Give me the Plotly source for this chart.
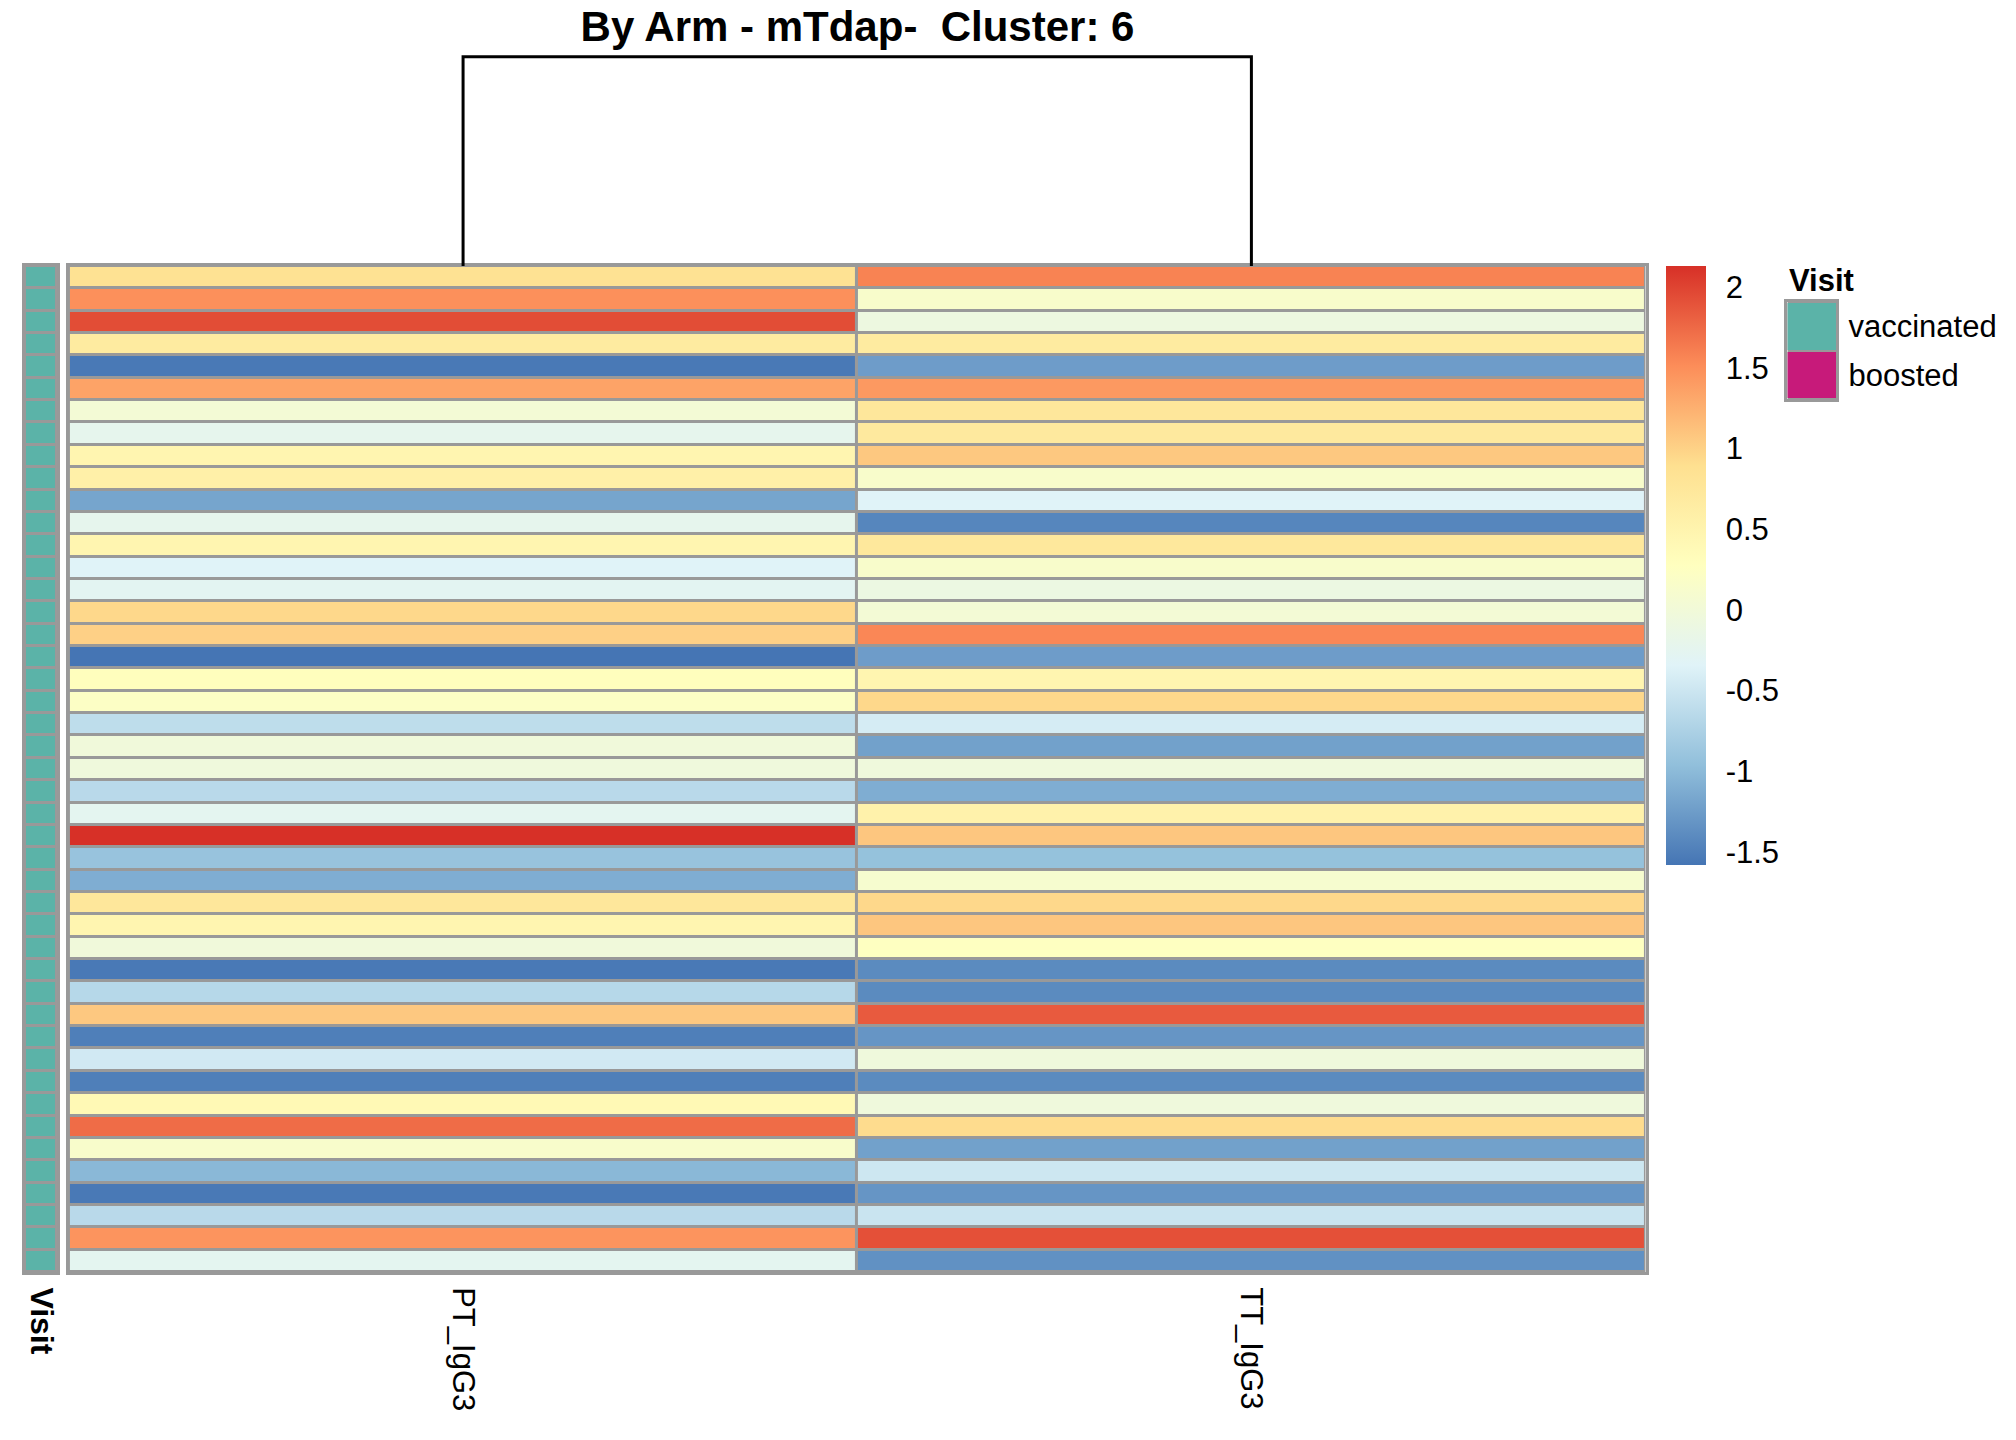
import numpy as np
import plotly.graph_objects as go

W, H = 2016, 1440

# scaled values per sample (rows) for the two antigens (columns)
columns = ["PT_IgG3", "TT_IgG3"]
pt_igg3 = [0.86, 1.49, 1.94, 0.68, -1.55, 1.35, 0.04, -0.22, 0.47, 0.58,
           -1.18, -0.22, 0.47, -0.34, -0.28, 0.95, 1.01, -1.58, 0.30, 0.21,
           -0.61, -0.02, -0.04, -0.65, -0.26, 2.13, -0.91, -1.11, 0.75, 0.47,
           -0.02, -1.55, -0.67, 1.07, -1.50, -0.46, -1.50, 0.40, 1.73, 0.14,
           -1.02, -1.55, -0.65, 1.46, -0.26]
tt_igg3 = [1.58, 0.14, -0.08, 0.68, -1.25, 1.42, 0.75, 0.71, 1.07, 0.14,
           -0.34, -1.44, 0.74, 0.14, -0.10, 0.04, 1.55, -1.25, 0.47, 0.95,
           -0.43, -1.21, -0.04, -1.11, 0.54, 1.09, -0.93, 0.10, 0.95, 1.09,
           0.25, -1.40, -1.40, 1.85, -1.31, -0.04, -1.40, -0.04, 0.92, -1.21,
           -0.49, -1.31, -0.52, 1.92, -1.35]
visit = ["vaccinated"] * 45
visit_levels = ["vaccinated", "boosted"]
visit_colors = ["#5BB3A8", "#C71A7A"]
cbar_ticks = [2, 1.5, 1, 0.5, 0, -0.5, -1, -1.5]
cbar_text = ["2", "1.5", "1", "0.5", "0", "-0.5", "-1", "-1.5"]

rdylbu_r = ["#4575B4", "#91BFDB", "#E0F3F8", "#FFFFBF", "#FEE090", "#FC8D59", "#D73027"]
GRID = "#999999"
FONT = "Liberation Sans, Arial, sans-serif"

rows = list(range(1, len(pt_igg3) + 1))
z = [[a, b] for a, b in zip(pt_igg3, tt_igg3)]
zmin, zmax = min(pt_igg3 + tt_igg3), max(pt_igg3 + tt_igg3)

# column dendrogram height (euclidean distance between the two columns)
h = float(np.sqrt(np.sum((np.array(pt_igg3) - np.array(tt_igg3)) ** 2)))

PAGE = 8  # body margin of the html page


def fx(px):
    return (px - PAGE) / W


def fy(py):
    return 1 - (py - PAGE) / H


hm_left, hm_right, hm_top, hm_bot = 68, 1647, 266, 1272
dendro_top = hm_top - (hm_top - 56.7) * 1.03
solid_grey = [[0, GRID], [1, GRID]]
visit_scale = [[0, visit_colors[0]], [0.5, visit_colors[0]],
               [0.5, visit_colors[1]], [1, visit_colors[1]]]

fig = go.Figure()

# grey underlay so the cell gaps look like pheatmap borders
fig.add_trace(go.Heatmap(z=[[0, 0] for _ in rows], x=columns, y=rows, colorscale=solid_grey,
                         showscale=False, hoverinfo="skip", xaxis="x", yaxis="y"))
fig.add_trace(go.Heatmap(
    z=z, x=columns, y=rows,
    colorscale=[[i / 6, c] for i, c in enumerate(rdylbu_r)],
    zmin=zmin, zmax=zmax, xgap=3, ygap=3,
    colorbar=dict(
        x=fx(1667), xanchor="left", xpad=0,
        y=fy(hm_top), yanchor="top", ypad=0,
        thickness=40, lenmode="pixels", len=599,
        outlinewidth=0,
        tickvals=cbar_ticks, ticktext=cbar_text,
        ticks="outside", ticklen=14, tickcolor="rgba(0,0,0,0)",
        tickfont=dict(size=31, color="black", family=FONT),
    ),
    xaxis="x", yaxis="y",
))

# Visit annotation column
fig.add_trace(go.Heatmap(z=[[0] for _ in rows], x=["<b>Visit</b>"], y=rows, colorscale=solid_grey,
                         showscale=False, hoverinfo="skip", xaxis="x2", yaxis="y2"))
fig.add_trace(go.Heatmap(
    z=[[visit_levels.index(v)] for v in visit], x=["<b>Visit</b>"], y=rows,
    colorscale=visit_scale, zmin=0, zmax=1, showscale=False, xgap=3, ygap=3,
    xaxis="x2", yaxis="y2",
))

# Visit legend
fig.add_trace(go.Heatmap(z=[[0] for _ in visit_levels], x=["k"], y=visit_levels, colorscale=solid_grey,
                         showscale=False, hoverinfo="skip", xaxis="x3", yaxis="y3"))
fig.add_trace(go.Heatmap(
    z=[[i] for i in range(len(visit_levels))], x=["k"], y=visit_levels,
    colorscale=visit_scale, zmin=0, zmax=1, showscale=False, ygap=2,
    xaxis="x3", yaxis="y3",
))

# column dendrogram
fig.add_trace(go.Scatter(
    x=[0, 0, 1, 1], y=[0, h, h, 0], mode="lines",
    line=dict(color="black", width=3), showlegend=False,
    xaxis="x4", yaxis="y4",
))

border = dict(showline=True, linecolor=GRID, linewidth=3, mirror=True,
              showgrid=False, zeroline=False)

fig.update_layout(
    width=W, height=H,
    margin=dict(l=0, r=0, t=0, b=0),
    paper_bgcolor="white", plot_bgcolor="white",
    font=dict(family=FONT, color="black"),
    title=dict(text="<b>By Arm - mTdap-\u00a0 Cluster: 6</b>",
               x=fx((hm_left + hm_right) / 2), xanchor="center",
               y=fy(26), yanchor="middle",
               font=dict(size=42, family=FONT, color="black")),
    xaxis=dict(domain=[fx(hm_left), fx(hm_right)], anchor="y", tickangle=90,
               ticks="", ticklabelstandoff=6,
               tickfont=dict(size=31, family=FONT, color="black"), **border),
    yaxis=dict(domain=[fy(hm_bot), fy(hm_top)], anchor="x", range=[len(rows) + 0.5, 0.5],
               showticklabels=False, ticks="", **border),
    xaxis2=dict(domain=[fx(24), fx(56.5)], anchor="y2", tickangle=90,
                ticks="", ticklabelstandoff=6,
                tickfont=dict(size=32, family=FONT, color="black"), **border),
    yaxis2=dict(domain=[fy(hm_bot), fy(hm_top)], anchor="x2", range=[len(rows) + 0.5, 0.5],
                showticklabels=False, ticks="", **border),
    xaxis3=dict(domain=[fx(1789), fx(1838)], anchor="y3", showticklabels=False, ticks="", **border),
    yaxis3=dict(domain=[fy(399), fy(302)], anchor="x3", side="right", autorange="reversed",
                ticks="", ticklabelstandoff=3,
                tickfont=dict(size=31, family=FONT, color="black"), **border),
    xaxis4=dict(domain=[fx(hm_left), fx(hm_right)], anchor="y4", range=[-0.5, 1.5],
                visible=False),
    yaxis4=dict(domain=[fy(hm_top), fy(dendro_top)], anchor="x4", range=[0, h * 1.03],
                visible=False),
    annotations=[dict(text="<b>Visit</b>", x=fx(1789), xanchor="left", y=fy(280),
                      yanchor="middle", xref="paper", yref="paper", showarrow=False,
                      font=dict(size=31, family=FONT, color="black"))],
)

fig.write_html("out.html")
